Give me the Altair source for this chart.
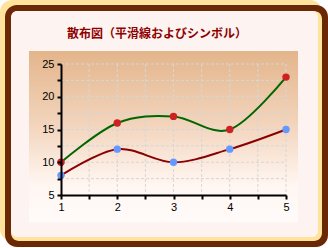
import altair as alt
import pandas as pd

x_vals = [1, 2, 3, 4, 5]
series_a = [10, 16, 17, 15, 23]   # green line, red markers
series_b = [8, 12, 10, 12, 15]    # dark red line, blue markers
x_ticks = [1, 1.5, 2, 2.5, 3, 3.5, 4, 4.5, 5]
y_ticks = [5, 7.5, 10, 12.5, 15, 17.5, 20, 22.5, 25]
title_text = "散布図（平滑線およびシンボル）"

W, H = 225, 131
PL, PT = 61, 64

df_a = pd.DataFrame({"x": x_vals, "y": series_a})
df_b = pd.DataFrame({"x": x_vals, "y": series_b})
df_xg = pd.DataFrame({"x": [v for v in x_ticks if v > 1]})
df_yg = pd.DataFrame({"y": [v for v in y_ticks if v > 5]})
one = alt.Data(values=[{"a": 1}])

xs = alt.Scale(domain=[1, 5], nice=False, zero=False)
ys = alt.Scale(domain=[5, 25], nice=False, zero=False)


def box(x0, y0, x1, y1, color, r):
    return alt.Chart(one).mark_rect(fill=color, cornerRadius=r).encode(
        x=alt.value(x0 - PL), x2=alt.value(x1 - PL),
        y=alt.value(y0 - PT), y2=alt.value(y1 - PT))


beige = "#ffe39c"
brown = "#6b2806"
frame = [
    box(0, 0, 322, 241, beige, 12),
    box(5, 5, 328, 247, brown, 12),
    box(11, 11, 322, 241, beige, 8),
    box(11, 11, 318, 237, "#fdf4f1", 6),
]

grad = alt.Gradient(
    gradient="linear", x1=0, y1=0, x2=0, y2=1,
    stops=[alt.GradientStop(offset=0, color="#e3b58b"),
           alt.GradientStop(offset=0.45, color="#f3d6bf"),
           alt.GradientStop(offset=0.78, color="#fff6f1"),
           alt.GradientStop(offset=1, color="#fffbfa")])
plotbg = alt.Chart(one).mark_rect(fill=grad).encode(
    x=alt.value(29 - PL), x2=alt.value(298 - PL),
    y=alt.value(51 - PT), y2=alt.value(222 - PT))

title = alt.Chart(one).mark_text(
    text=title_text, font="Noto Sans CJK JP", fontSize=12, fontWeight="bold",
    color="#8f0000", align="center", baseline="middle").encode(
    x=alt.value(157 - PL), y=alt.value(34 - PT))

xaxis = alt.Axis(values=x_ticks,
                 labelExpr="datum.value % 1 == 0 ? format(datum.value, 'd') : ''",
                 title=None, grid=False, domainColor="black", domainWidth=2,
                 tickColor="black", tickWidth=2, tickSize=4, labelColor="black",
                 labelFont="Liberation Sans", labelFontSize=11, labelPadding=2,
                 labelFlush=False, labelOverlap=False, labelBound=False, zindex=1)
yaxis = alt.Axis(values=y_ticks,
                 labelExpr="datum.value % 5 == 0 ? format(datum.value, 'd') : ''",
                 title=None, grid=False, domainColor="black", domainWidth=2,
                 tickColor="black", tickWidth=2, tickSize=4, labelColor="black",
                 labelFont="Liberation Sans", labelFontSize=11, labelPadding=3,
                 labelFlush=False, labelOverlap=False, labelBound=False, zindex=1)

gx = alt.Chart(df_xg).mark_rule(color="#d6d6d6", strokeDash=[3, 2], strokeWidth=1).encode(
    x=alt.X("x:Q", scale=xs, axis=xaxis), y=alt.value(0), y2=alt.value(H))
gy = alt.Chart(df_yg).mark_rule(color="#d6d6d6", strokeDash=[3, 2], strokeWidth=1).encode(
    y=alt.Y("y:Q", scale=ys, axis=yaxis), x=alt.value(0), x2=alt.value(W))

base_a = alt.Chart(df_a).encode(x=alt.X("x:Q", scale=xs, axis=xaxis),
                                y=alt.Y("y:Q", scale=ys, axis=yaxis))
base_b = alt.Chart(df_b).encode(x=alt.X("x:Q", scale=xs, axis=xaxis),
                                y=alt.Y("y:Q", scale=ys, axis=yaxis))

line_a = base_a.mark_line(color="#006600", strokeWidth=2, interpolate="cardinal")
line_b = base_b.mark_line(color="#8b0000", strokeWidth=2, interpolate="cardinal")
pts_a = base_a.mark_point(filled=True, shape="circle", size=55, color="#cc2222", opacity=1)
pts_b = base_b.mark_point(filled=True, shape="circle", size=55, color="#6699ff", opacity=1)

chart = alt.layer(*frame, plotbg, title, gx, gy, line_b, line_a, pts_a, pts_b).properties(
    width=W, height=H,
    autosize=alt.AutoSizeParams(type="none"),
    padding={"left": PL, "top": PT, "right": 328 - PL - W, "bottom": 248 - PT - H},
    background="white",
).configure_view(stroke=None).configure_axis(labelOverlap=False, labelBound=False)

chart.save("out.html", embed_options={"renderer": "svg", "actions": False})
